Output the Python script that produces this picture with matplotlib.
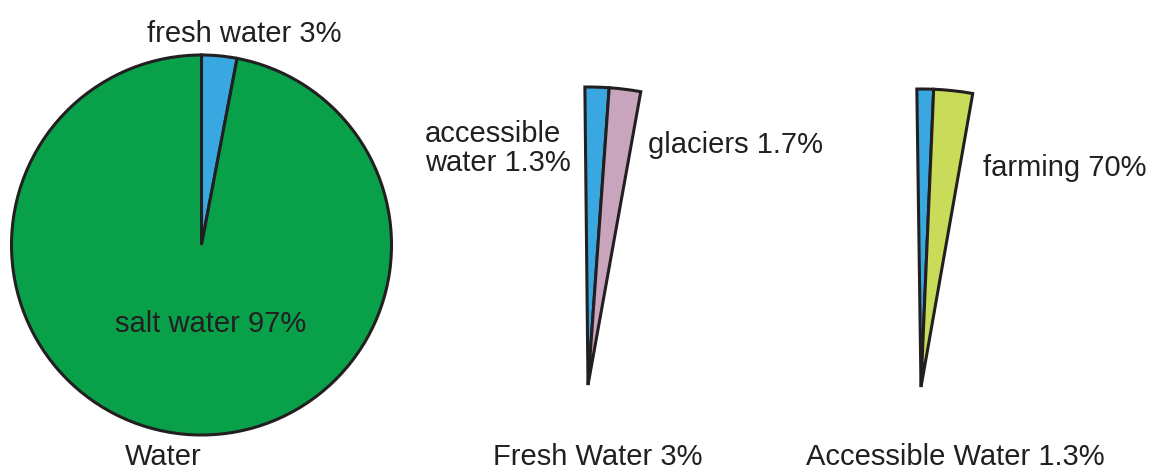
import matplotlib
matplotlib.use("Agg")
import matplotlib.pyplot as plt

plt.rcParams['font.family'] = ['Liberation Sans', 'DejaVu Sans']

# shares, in percent
water_labels = ['fresh water 3%', 'salt water 97%']
water_values = [3, 97]

fresh_labels = ['accessible\nwater 1.3%', 'glaciers 1.7%']
fresh_values = [1.3, 1.7]            # percent of all water

access_labels = ['', 'farming 70%']
access_values = [30, 70]             # percent of accessible water

titles = ['Water', 'Fresh Water 3%', 'Accessible Water 1.3%']

W, H = 1152, 472
INK = '#231f20'
BLUE = '#3aa8e0'
GREEN = '#08a14a'
PINK = '#c8a5bd'
LIME = '#c8dc5a'

fig = plt.figure(figsize=(W / 100, H / 100), dpi=100)
ax = fig.add_axes([0, 0, 1, 1])

edge = dict(edgecolor=INK, linewidth=2.2, joinstyle='miter')

# big pie
ax.pie(water_values, colors=[BLUE, GREEN], startangle=90, counterclock=False,
       center=(201.5, H - 245), radius=190, wedgeprops=edge)

# fresh water wedge, drawn as a slice of a larger circle (3% of 360 deg)
fresh_frac = [v / 100 for v in fresh_values]
ax.pie(fresh_frac, colors=[BLUE, PINK], startangle=90.6, counterclock=False,
       normalize=False, center=(588, H - 385), radius=298, wedgeprops=edge)

# accessible water wedge, same opening angle as the fresh water wedge
total = sum(fresh_values) / 100
access_frac = [total * v / 100 for v in access_values]
ax.pie(access_frac, colors=[BLUE, LIME], startangle=90.8, counterclock=False,
       normalize=False, center=(921, H - 387), radius=298, wedgeprops=edge)

ax.set_xlim(0, W)
ax.set_ylim(0, H)
ax.set_aspect('equal')
ax.axis('off')

txt = dict(fontsize=21, color=INK, va='baseline', ha='left')
ax.text(147, H - 42, water_labels[0], **txt)
ax.text(115, H - 332, water_labels[1], **txt)
ax.text(425, H - 171, fresh_labels[0], linespacing=1.05, **txt)
ax.text(648, H - 153, fresh_labels[1], **txt)
ax.text(983, H - 176, access_labels[1], **txt)

for x, t in zip([125, 493, 806], titles):
    ax.text(x, H - 465, t, **txt)

fig.savefig('out.png', dpi=100)
